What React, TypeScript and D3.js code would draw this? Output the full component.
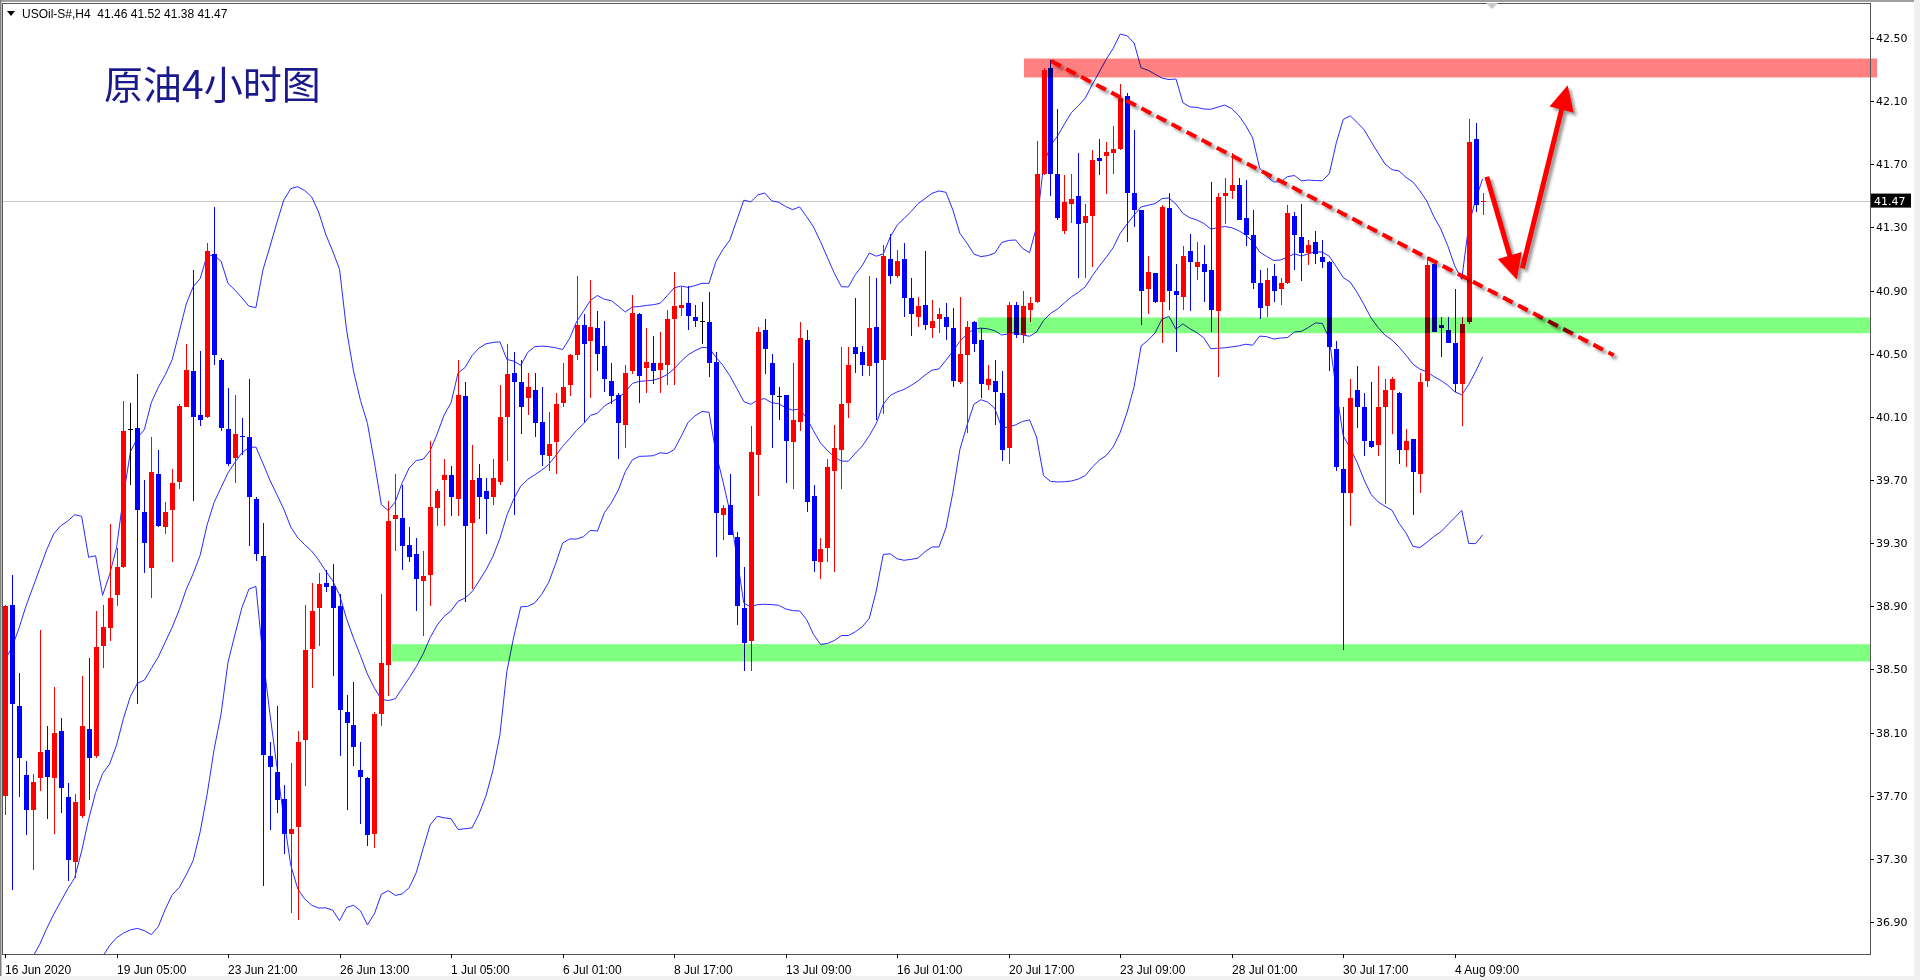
import * as d3 from "d3";

// USOIL H4 candles (bar 0 = 16 Jun 2020)
const opens = [
  37.70,38.91,38.27,37.83,37.61,37.81,37.99,37.81,38.11,37.69,
  37.28,37.57,38.12,37.95,38.65,38.76,38.97,39.15,40.02,40.03,
  39.50,39.14,39.74,39.40,39.51,39.69,40.16,40.39,40.11,40.10,
  41.13,40.46,40.02,39.84,39.98,39.97,39.58,39.22,37.95,37.85,
  37.68,37.46,37.50,38.05,38.63,38.89,39.05,39.03,38.90,38.23,
  38.15,37.86,37.81,37.46,38.22,38.53,39.45,39.46,39.29,39.23,
  39.06,39.10,39.52,39.70,39.73,39.58,40.23,39.43,39.71,39.63,
  39.59,39.69,40.10,40.38,40.32,40.22,40.27,40.07,39.85,39.94,
  40.19,40.30,40.49,40.68,40.58,40.66,40.55,40.33,40.24,40.05,
  40.39,40.75,40.41,40.44,40.40,40.43,40.72,40.79,40.82,40.73,
  40.71,40.70,40.45,39.48,39.54,39.34,38.89,38.68,39.86,40.65,
  40.44,40.23,40.24,39.94,40.07,40.59,39.60,39.18,39.27,39.76,
  39.89,40.19,40.54,40.51,40.42,40.67,40.46,41.10,40.99,41.10,
  40.85,40.73,40.81,40.66,40.72,40.73,40.66,40.32,40.49,40.70,
  40.59,40.30,40.33,40.25,39.90,40.81,40.62,40.78,40.83,41.64,
  42.31,41.64,41.28,41.45,41.50,41.33,41.37,41.74,41.75,41.77,
  41.80,42.13,41.52,41.41,40.91,41.01,40.83,41.42,40.90,40.86,
  41.15,41.05,41.07,41.03,40.77,41.50,41.53,41.57,41.36,41.25,
  40.95,40.80,40.99,40.91,40.95,41.37,41.24,41.14,41.21,41.11,
  41.08,40.53,39.77,39.62,40.27,40.16,39.95,39.92,40.16,40.27,
  40.25,39.89,39.96,39.74,40.33,41.07,40.68,40.65,40.57,40.31,
  40.70,41.86,41.46,
];
const highs = [
  38.91,39.10,38.48,37.92,37.84,38.75,38.14,38.39,38.19,37.78,
  37.71,38.46,38.57,38.87,38.91,39.42,39.27,40.20,40.19,40.37,
  39.70,39.97,39.89,39.56,39.77,40.18,40.56,41.03,40.52,41.20,
  41.43,40.47,40.28,40.24,40.09,40.34,39.59,39.43,38.04,38.27,
  37.77,37.91,38.11,38.91,39.05,39.11,39.13,39.17,38.98,38.34,
  38.42,38.04,37.82,38.23,38.98,39.57,39.74,39.67,39.40,39.33,
  39.25,39.95,39.64,39.83,39.79,40.46,40.32,39.92,39.80,39.71,
  39.83,40.30,40.56,40.51,40.46,40.38,40.38,40.29,40.13,40.25,
  40.44,40.50,40.99,40.75,40.97,40.77,40.71,40.44,40.25,40.43,
  40.87,40.76,40.66,40.61,40.64,40.78,41.02,40.92,40.93,40.81,
  40.83,40.89,40.51,39.54,39.74,39.37,39.15,40.04,40.67,40.72,
  40.50,40.29,40.24,40.44,40.70,40.65,39.67,39.33,39.83,40.05,
  40.54,40.54,40.85,40.55,40.99,40.98,41.19,41.26,41.16,41.20,
  40.98,40.86,41.15,40.84,40.79,40.82,40.79,40.86,40.71,40.71,
  40.66,40.43,40.46,40.39,40.83,40.83,40.90,40.86,41.85,42.31,
  42.36,42.05,41.63,41.64,41.77,41.45,41.79,41.86,41.84,41.94,
  42.21,42.15,41.92,41.41,41.12,41.01,41.44,41.52,41.07,41.18,
  41.26,41.21,41.19,41.59,41.52,41.61,41.77,41.61,41.60,41.41,
  41.03,41.04,41.07,40.98,41.44,41.40,41.45,41.22,41.28,41.22,
  41.09,40.58,40.16,40.34,40.42,40.25,40.32,40.42,40.34,40.35,
  40.26,40.02,39.96,40.38,41.11,41.09,40.73,40.73,40.91,40.73,
  41.99,41.96,41.52,
];
const lows = [
  37.58,37.10,37.69,37.45,37.23,37.73,37.55,37.46,37.59,37.16,
  37.18,37.56,37.67,37.94,38.51,38.68,38.90,39.14,39.67,38.28,
  39.11,38.95,39.40,39.36,39.18,39.64,40.16,39.57,40.04,40.09,
  40.43,40.01,39.79,39.68,39.86,39.28,39.19,37.13,37.48,37.59,
  37.33,36.96,36.91,37.76,38.38,38.65,38.99,38.46,37.95,37.61,
  37.89,37.52,37.38,37.37,38.14,38.33,39.25,39.13,39.18,38.87,
  38.71,38.90,39.41,39.41,39.47,39.47,38.93,39.01,39.45,39.36,
  39.54,39.67,39.82,39.48,39.99,40.11,39.97,39.79,39.76,39.74,
  40.16,40.23,40.46,40.07,40.22,40.39,40.26,40.18,39.83,39.90,
  40.37,40.19,40.25,40.31,40.25,40.30,40.30,40.74,40.65,40.67,
  40.56,40.35,39.21,39.32,39.35,38.78,38.49,38.49,39.60,40.37,
  39.90,40.08,39.68,39.64,40.01,39.50,39.12,39.07,39.18,39.12,
  39.64,40.09,40.38,40.36,40.36,40.08,40.12,40.94,40.98,40.73,
  40.61,40.67,40.65,40.60,40.63,40.59,40.29,40.31,40.00,40.51,
  40.22,40.27,40.05,39.82,39.80,40.60,40.57,40.70,40.82,41.63,
  41.50,41.35,41.26,41.33,40.98,40.98,41.05,41.63,41.51,41.64,
  41.79,41.21,41.30,40.68,40.75,40.82,40.57,40.78,40.51,40.78,
  40.77,40.97,40.83,40.64,40.35,41.32,41.48,41.35,41.18,40.91,
  40.72,40.73,40.83,40.81,40.94,41.03,40.96,41.06,41.07,41.04,
  40.39,39.76,38.62,39.41,40.03,39.85,39.90,39.85,39.55,39.99,
  39.80,39.78,39.48,39.62,40.29,40.64,40.48,40.57,40.26,40.04,
  40.69,41.40,41.38,
];
const closes = [
  38.90,38.28,37.94,37.61,37.79,37.98,37.82,38.10,37.75,37.29,
  37.66,38.14,37.94,38.64,38.77,38.95,39.15,40.01,40.02,39.51,
  39.30,39.75,39.41,39.50,39.68,40.17,40.40,40.10,40.08,41.15,
  40.49,40.03,39.80,39.99,39.97,39.59,39.23,37.96,37.88,37.67,
  37.46,37.49,38.04,38.62,38.87,39.04,39.02,38.89,38.24,38.16,
  38.01,37.82,37.45,38.22,38.54,39.44,39.48,39.28,39.21,39.07,
  39.09,39.53,39.63,39.73,39.59,40.24,39.41,39.70,39.59,39.58,
  39.71,40.10,40.37,40.32,40.16,40.29,40.06,39.86,39.93,40.18,
  40.29,40.49,40.68,40.56,40.67,40.50,40.34,40.23,40.06,40.38,
  40.76,40.36,40.45,40.39,40.44,40.72,40.80,40.81,40.74,40.71,
  40.71,40.44,39.49,39.52,39.35,38.90,38.67,39.88,40.64,40.53,
  40.24,40.23,39.95,40.08,40.60,39.56,39.19,39.26,39.78,39.90,
  40.18,40.43,40.50,40.43,40.66,40.44,41.12,40.99,41.09,40.85,
  40.75,40.80,40.68,40.71,40.75,40.67,40.33,40.50,40.67,40.56,
  40.31,40.34,40.26,39.89,40.81,40.62,40.80,40.82,41.64,42.30,
  41.64,41.36,41.46,41.48,41.32,41.37,41.73,41.72,41.78,41.80,
  42.12,41.52,41.41,40.90,41.02,40.83,41.43,40.90,40.87,41.12,
  41.08,41.08,41.02,40.78,41.49,41.52,41.57,41.35,41.25,40.95,
  40.79,40.97,40.90,40.95,41.39,41.25,41.14,41.19,41.13,41.08,
  40.54,39.78,39.62,40.22,40.16,39.95,39.91,40.16,40.27,40.34,
  39.89,39.95,39.75,40.32,41.06,40.64,40.66,40.57,40.31,40.69,
  41.84,41.44,41.47,
];

// Bollinger band values visible on the first 19 bars (earlier history is off the chart)
const upperSeed = [38.56,38.64,38.76,38.90,39.02,39.14,39.26,39.36,39.41,39.44,39.48,39.47,39.21,39.22,38.97,39.10,39.27,39.60,39.88];
const middleSeed = [null,null,null,36.62,36.68,36.76,36.86,36.95,37.03,37.11,37.18,37.35,37.55,37.72,37.84,37.90,38.02,38.19,38.33];
const lowerSeed = [null,null,null,null,null,null,null,null,null,null,null,null,null,36.58,36.68,36.75,36.80,36.83,36.85];

const timeLabels = [
  "16 Jun 2020", "19 Jun 05:00", "23 Jun 21:00", "26 Jun 13:00", "1 Jul 05:00",
  "6 Jul 01:00", "8 Jul 17:00", "13 Jul 09:00", "16 Jul 01:00", "20 Jul 17:00",
  "23 Jul 09:00", "28 Jul 01:00", "30 Jul 17:00", "4 Aug 09:00",
];
const priceTicks = [36.9, 37.3, 37.7, 38.1, 38.5, 38.9, 39.3, 39.7, 40.1, 40.5, 40.9, 41.3, 41.7, 42.1, 42.5];

// zones: [start bar, low price, high price]
const supportZones = [[55.5, 38.55, 38.66], [139.6, 40.63, 40.73]];
const resistanceZone = [146.2, 42.25, 42.37];
// trend line and arrows: [bar, price] pairs
const trendLine = [[150.07, 42.354], [230.8, 40.49]];
const arrows = [
  [[212.6, 41.62], [216.9, 40.97]],
  [[217.7, 41.04], [224.2, 42.2]],
];
const lastPrice = 41.47;

const W = 1920;
const H = 980;
const plot = { left: 2, top: 3, right: 1870, bottom: 954 };

export default function App() {
  const x = d3.scaleLinear([0, 212], [5, 5 + 6.97 * 212]);
  const y = d3.scaleLinear([36.9, 42.5], [922, 38]);

  const bands = closes.map((c, i) => {
    if (i < 19) return { up: upperSeed[i], mid: middleSeed[i], lo: lowerSeed[i] };
    const win = closes.slice(i - 19, i + 1);
    const m = d3.mean(win);
    const sd = Math.sqrt(d3.mean(win, (v) => (v - m) ** 2));
    return { up: m + 2 * sd, mid: m, lo: m - 2 * sd };
  });

  const bandLine = (key) =>
    d3
      .line()
      .defined((d) => d[key] != null)
      .x((d, i) => x(i))
      .y((d) => y(d[key]))(bands);

  const arrowShape = ([from, to]) => {
    const x1 = x(from[0]), y1 = y(from[1]);
    const x2 = x(to[0]), y2 = y(to[1]);
    const len = Math.hypot(x2 - x1, y2 - y1);
    const ux = (x2 - x1) / len, uy = (y2 - y1) / len;
    const hl = 25, hw = 12.5;
    const bx = x2 - ux * hl, by = y2 - uy * hl;
    return {
      shaft: [x1, y1, bx + ux * 2, by + uy * 2],
      head: `${x2},${y2} ${bx - uy * hw},${by + ux * hw} ${bx + uy * hw},${by - ux * hw}`,
    };
  };

  return (
    <svg
      width={W}
      height={H}
      style={{ position: "fixed", left: 0, top: 0, background: "#fff" }}
    >
      <defs>
        <clipPath id="plotClip">
          <rect x={plot.left} y={plot.top} width={plot.right - plot.left} height={plot.bottom - plot.top} />
        </clipPath>
        <filter id="shadow" filterUnits="userSpaceOnUse" x="0" y="0" width={W} height={H}>
          <feDropShadow dx="3" dy="3" stdDeviation="1.5" floodColor="#000" floodOpacity="0.4" />
        </filter>
      </defs>

      {/* window frame */}
      <rect x={0} y={0} width={W} height={H} fill="#fff" />
      <rect x={0} y={0} width={W} height={2} fill="#a0a0a0" />
      <rect x={0} y={0} width={1.5} height={H} fill="#808080" />
      <rect x={0} y={976} width={W} height={4} fill="#f0f0f0" />
      <rect x={1914} y={0} width={6} height={H} fill="#f0f0f0" />

      {/* current price line */}
      <line x1={plot.left} x2={plot.right} y1={Math.round(y(lastPrice)) + 0.5} y2={Math.round(y(lastPrice)) + 0.5} stroke="#c8c8c8" />

      <g clipPath="url(#plotClip)">
        {/* bollinger bands */}
        {["up", "mid", "lo"].map((k) => (
          <path key={k} d={bandLine(k)} fill="none" stroke="#2a2aff" strokeWidth={1} />
        ))}

        {/* candles */}
        {closes.map((c, i) => {
          const o = opens[i];
          const cx = Math.round(x(i));
          const color = c > o ? "#ff0000" : c < o ? "#0000ff" : "#000000";
          const top = Math.round(y(Math.max(o, c)));
          const bot = Math.round(y(Math.min(o, c)));
          const hi = Math.round(y(highs[i]));
          const lo = Math.round(y(lows[i]));
          return (
            <g key={i} fill={color}>
              <rect x={cx} y={hi} width={1} height={Math.max(1, lo - hi)} />
              <rect x={cx - 2} y={top} width={5} height={Math.max(1, bot - top)} />
            </g>
          );
        })}
      </g>

      {/* trend line */}
      <line
        x1={x(trendLine[0][0])}
        y1={y(trendLine[0][1])}
        x2={x(trendLine[1][0])}
        y2={y(trendLine[1][1])}
        stroke="#ff0000"
        strokeWidth={4}
        strokeDasharray="11 6"
        filter="url(#shadow)"
      />

      {/* zones */}
      {supportZones.map(([b, lo, hi], i) => (
        <rect
          key={i}
          x={x(b)}
          y={y(hi)}
          width={plot.right - x(b)}
          height={y(lo) - y(hi)}
          fill="#80ff80"
          style={{ mixBlendMode: "multiply" }}
        />
      ))}
      <rect
        x={x(resistanceZone[0])}
        y={y(resistanceZone[2])}
        width={plot.right + 7 - x(resistanceZone[0])}
        height={y(resistanceZone[1]) - y(resistanceZone[2])}
        fill="#ff8080"
        style={{ mixBlendMode: "multiply" }}
      />

      {/* arrows */}
      {arrows.map((a, i) => {
        const s = arrowShape(a);
        return (
          <g key={i} filter="url(#shadow)">
            <line x1={s.shaft[0]} y1={s.shaft[1]} x2={s.shaft[2]} y2={s.shaft[3]} stroke="#ff0000" strokeWidth={5} />
            <polygon points={s.head} fill="#ff0000" />
          </g>
        );
      })}

      {/* plot frame */}
      <rect
        x={plot.left + 0.5}
        y={plot.top + 0.5}
        width={plot.right - plot.left}
        height={plot.bottom - plot.top}
        fill="none"
        stroke="#555"
      />
      <path d="M1486,3 L1498,3 L1492,9 Z" fill="#c8c8c8" />

      {/* right price axis */}
      <g fontFamily="DejaVu Sans, Verdana, sans-serif" fontSize={11} fill="#000">
        {priceTicks.map((p) => (
          <g key={p}>
            <line x1={plot.right} x2={plot.right + 4} y1={Math.round(y(p)) + 0.5} y2={Math.round(y(p)) + 0.5} stroke="#000" />
            <text x={plot.right + 6} y={y(p) + 4}>{p.toFixed(2)}</text>
          </g>
        ))}
        <rect x={plot.right + 1} y={y(lastPrice) - 7} width={40} height={14} fill="#000" />
        <text x={plot.right + 4} y={y(lastPrice) + 4} fill="#fff">{lastPrice.toFixed(2)}</text>
      </g>

      {/* time axis */}
      <g fontFamily="Liberation Sans, Arial, sans-serif" fontSize={12} fill="#000">
        {timeLabels.map((t, i) => {
          const tx = Math.round(x(i * 16));
          return (
            <g key={t}>
              <line x1={tx + 0.5} x2={tx + 0.5} y1={plot.bottom} y2={plot.bottom + 4} stroke="#000" />
              <text x={tx} y={974}>{t}</text>
            </g>
          );
        })}
      </g>

      {/* header + title */}
      <path d="M7,11 L15,11 L11,16 Z" fill="#000" />
      <text x={22} y={18} fontFamily="Liberation Sans, Arial, sans-serif" fontSize={12} fill="#000" style={{ whiteSpace: "pre" }}>
        {"USOil-S#,H4  41.46 41.52 41.38 41.47"}
      </text>
      <text x={104} y={99} fontFamily="Noto Sans CJK SC, sans-serif" fontSize={39} fill="#1a1a8c">
        原油4小时图
      </text>
    </svg>
  );
}
